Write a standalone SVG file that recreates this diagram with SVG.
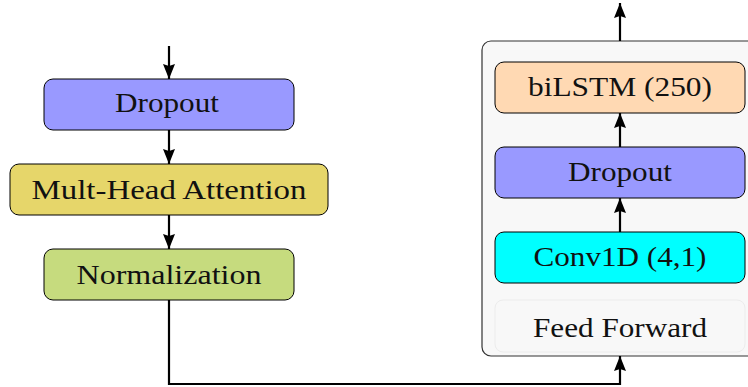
<svg xmlns="http://www.w3.org/2000/svg" width="748" height="387" viewBox="0 0 748 387">
  <defs>
    <marker id="arrow" markerUnits="userSpaceOnUse" markerWidth="16" markerHeight="14" viewBox="0 0 16 14" refX="15" refY="7" orient="auto">
      <path d="M0,1 L15,7 L0,13 L2,7 Z" fill="#000"/>
    </marker>
    <style>
      .box { stroke: #000; stroke-width: 1; }
      .label { font-family: "Liberation Serif", "DejaVu Serif", serif; font-size: 27px; fill: #111; text-anchor: middle; }
      .edge { fill: none; stroke: #000; stroke-width: 2.2; marker-end: url(#arrow); }
    </style>
  </defs>

  <!-- feed-forward container -->
  <g id="feedforward-block">
    <rect x="482" y="41" width="280" height="315" rx="9" fill="#f8f8f8" stroke="#333" stroke-width="1.2"/>
    <rect x="495" y="300" width="250" height="52" rx="8" fill="#f8f8f8" stroke="#ececec" stroke-width="1"/>
    <text class="label" x="620" y="337" textLength="174" lengthAdjust="spacingAndGlyphs">Feed Forward</text>
  </g>

  <g id="dropout-left">
    <rect class="box" x="44" y="79" width="250" height="51" rx="9" fill="#9999ff"/>
    <text class="label" x="167" y="112" textLength="104" lengthAdjust="spacingAndGlyphs">Dropout</text>
  </g>

  <g id="attention">
    <rect class="box" x="10" y="164" width="318" height="51" rx="9" fill="#e6d66a"/>
    <text class="label" x="169" y="199" textLength="275" lengthAdjust="spacingAndGlyphs">Mult-Head Attention</text>
  </g>

  <g id="normalization">
    <rect class="box" x="44" y="249" width="250" height="51" rx="9" fill="#c6db7e"/>
    <text class="label" x="169" y="284" textLength="185" lengthAdjust="spacingAndGlyphs">Normalization</text>
  </g>

  <g id="bilstm">
    <rect class="box" x="495" y="62" width="250" height="51" rx="9" fill="#ffd9b3"/>
    <text class="label" x="620" y="96" textLength="184" lengthAdjust="spacingAndGlyphs">biLSTM (250)</text>
  </g>

  <g id="dropout-right">
    <rect class="box" x="495" y="147" width="250" height="51" rx="9" fill="#9999ff"/>
    <text class="label" x="620" y="181" textLength="104" lengthAdjust="spacingAndGlyphs">Dropout</text>
  </g>

  <g id="conv1d">
    <rect class="box" x="495" y="232" width="250" height="51" rx="9" fill="#00ffff"/>
    <text class="label" x="620" y="266" textLength="173" lengthAdjust="spacingAndGlyphs">Conv1D (4,1)</text>
  </g>

  <g id="connectors">
    <path class="edge" d="M169,46 L169,79"/>
    <path class="edge" d="M169,130 L169,164"/>
    <path class="edge" d="M169,215 L169,249"/>
    <path class="edge" d="M169,300 L169,384 L620,384 L620,356"/>
    <path class="edge" d="M620,232 L620,198"/>
    <path class="edge" d="M620,147 L620,113"/>
    <path class="edge" d="M620,41 L620,3"/>
  </g>
</svg>
